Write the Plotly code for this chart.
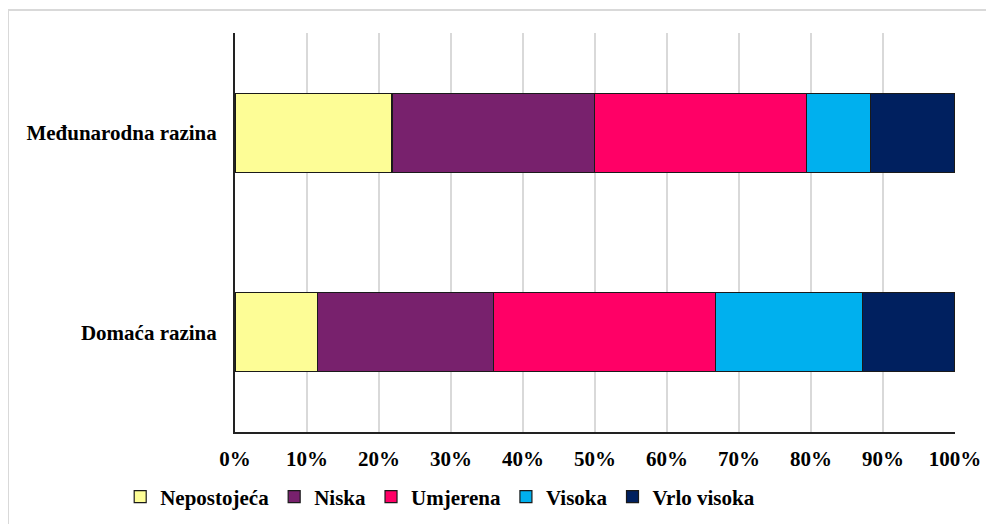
import plotly.graph_objects as go

categories = ["Domaća razina", "Međunarodna razina"]
series_names = ["Nepostojeća", "Niska", "Umjerena", "Visoka", "Vrlo visoka"]
nepostojeca = [11.5, 21.8]
niska = [24.4, 28.1]
umjerena = [30.8, 29.5]
visoka = [20.4, 8.9]
vrlo_visoka = [12.9, 11.7]
colors = ["#FDFD96", "#78216D", "#FF0066", "#00B0EE", "#00205F"]
x_ticks = list(range(0, 101, 10))
x_tick_labels = [f"{v}%" for v in x_ticks]

series_values = [nepostojeca, niska, umjerena, visoka, vrlo_visoka]

FONT = "Liberation Serif, Tinos, 'Times New Roman', 'DejaVu Serif', serif"
FS = 21

# page has an 8px body margin; plot area target in screenshot: x 235-955, y 33-432
L, T = 227, 25
PW, PH = 720, 399

fig = go.Figure()
for name, vals, col in zip(series_names, series_values, colors):
    fig.add_trace(go.Bar(
        y=categories, x=vals, name=name, orientation="h",
        marker=dict(color=col, line=dict(color="#1a1a1a", width=1.2)),
        width=0.395,
    ))

fig.update_layout(
    barmode="stack",
    width=994, height=524,
    margin=dict(l=L, r=994 - L - PW, t=T, b=524 - T - PH),
    paper_bgcolor="white", plot_bgcolor="white",
    font=dict(family=FONT, size=FS, color="black"),
    showlegend=True,
    legend=dict(
        orientation="h", x=0.285, xanchor="center", y=-0.163, yanchor="middle",
        font=dict(family=FONT, size=FS, color="black", weight="bold"),
        traceorder="normal", itemclick=False,
    ),
    xaxis=dict(
        range=[0, 100], tickvals=x_ticks, ticktext=x_tick_labels,
        tickmode="array",
        showgrid=True, gridcolor="#D9D9D9", gridwidth=1.5,
        showline=True, linecolor="#222", linewidth=2,
        zeroline=False, ticks="",
        tickfont=dict(family=FONT, size=FS, color="black", weight="bold"),
        ticklabelstandoff=7,
    ),
    yaxis=dict(
        showgrid=False, showline=True, linecolor="#222", linewidth=2,
        ticks="", zeroline=False,
        tickfont=dict(family=FONT, size=FS, color="black", weight="bold"),
        ticklabelstandoff=12,
        range=[-0.5, 1.5],
    ),
    shapes=[dict(
        type="rect", xref="paper", yref="paper",
        x0=(0 - L) / PW, x1=(1010 - L) / PW,
        y0=(T + PH - 540) / PH, y1=(T + PH - 2) / PH,
        line=dict(color="#D9D9D9", width=2), fillcolor="rgba(0,0,0,0)",
        layer="below",
    )],
)

fig.write_html("out.html")
